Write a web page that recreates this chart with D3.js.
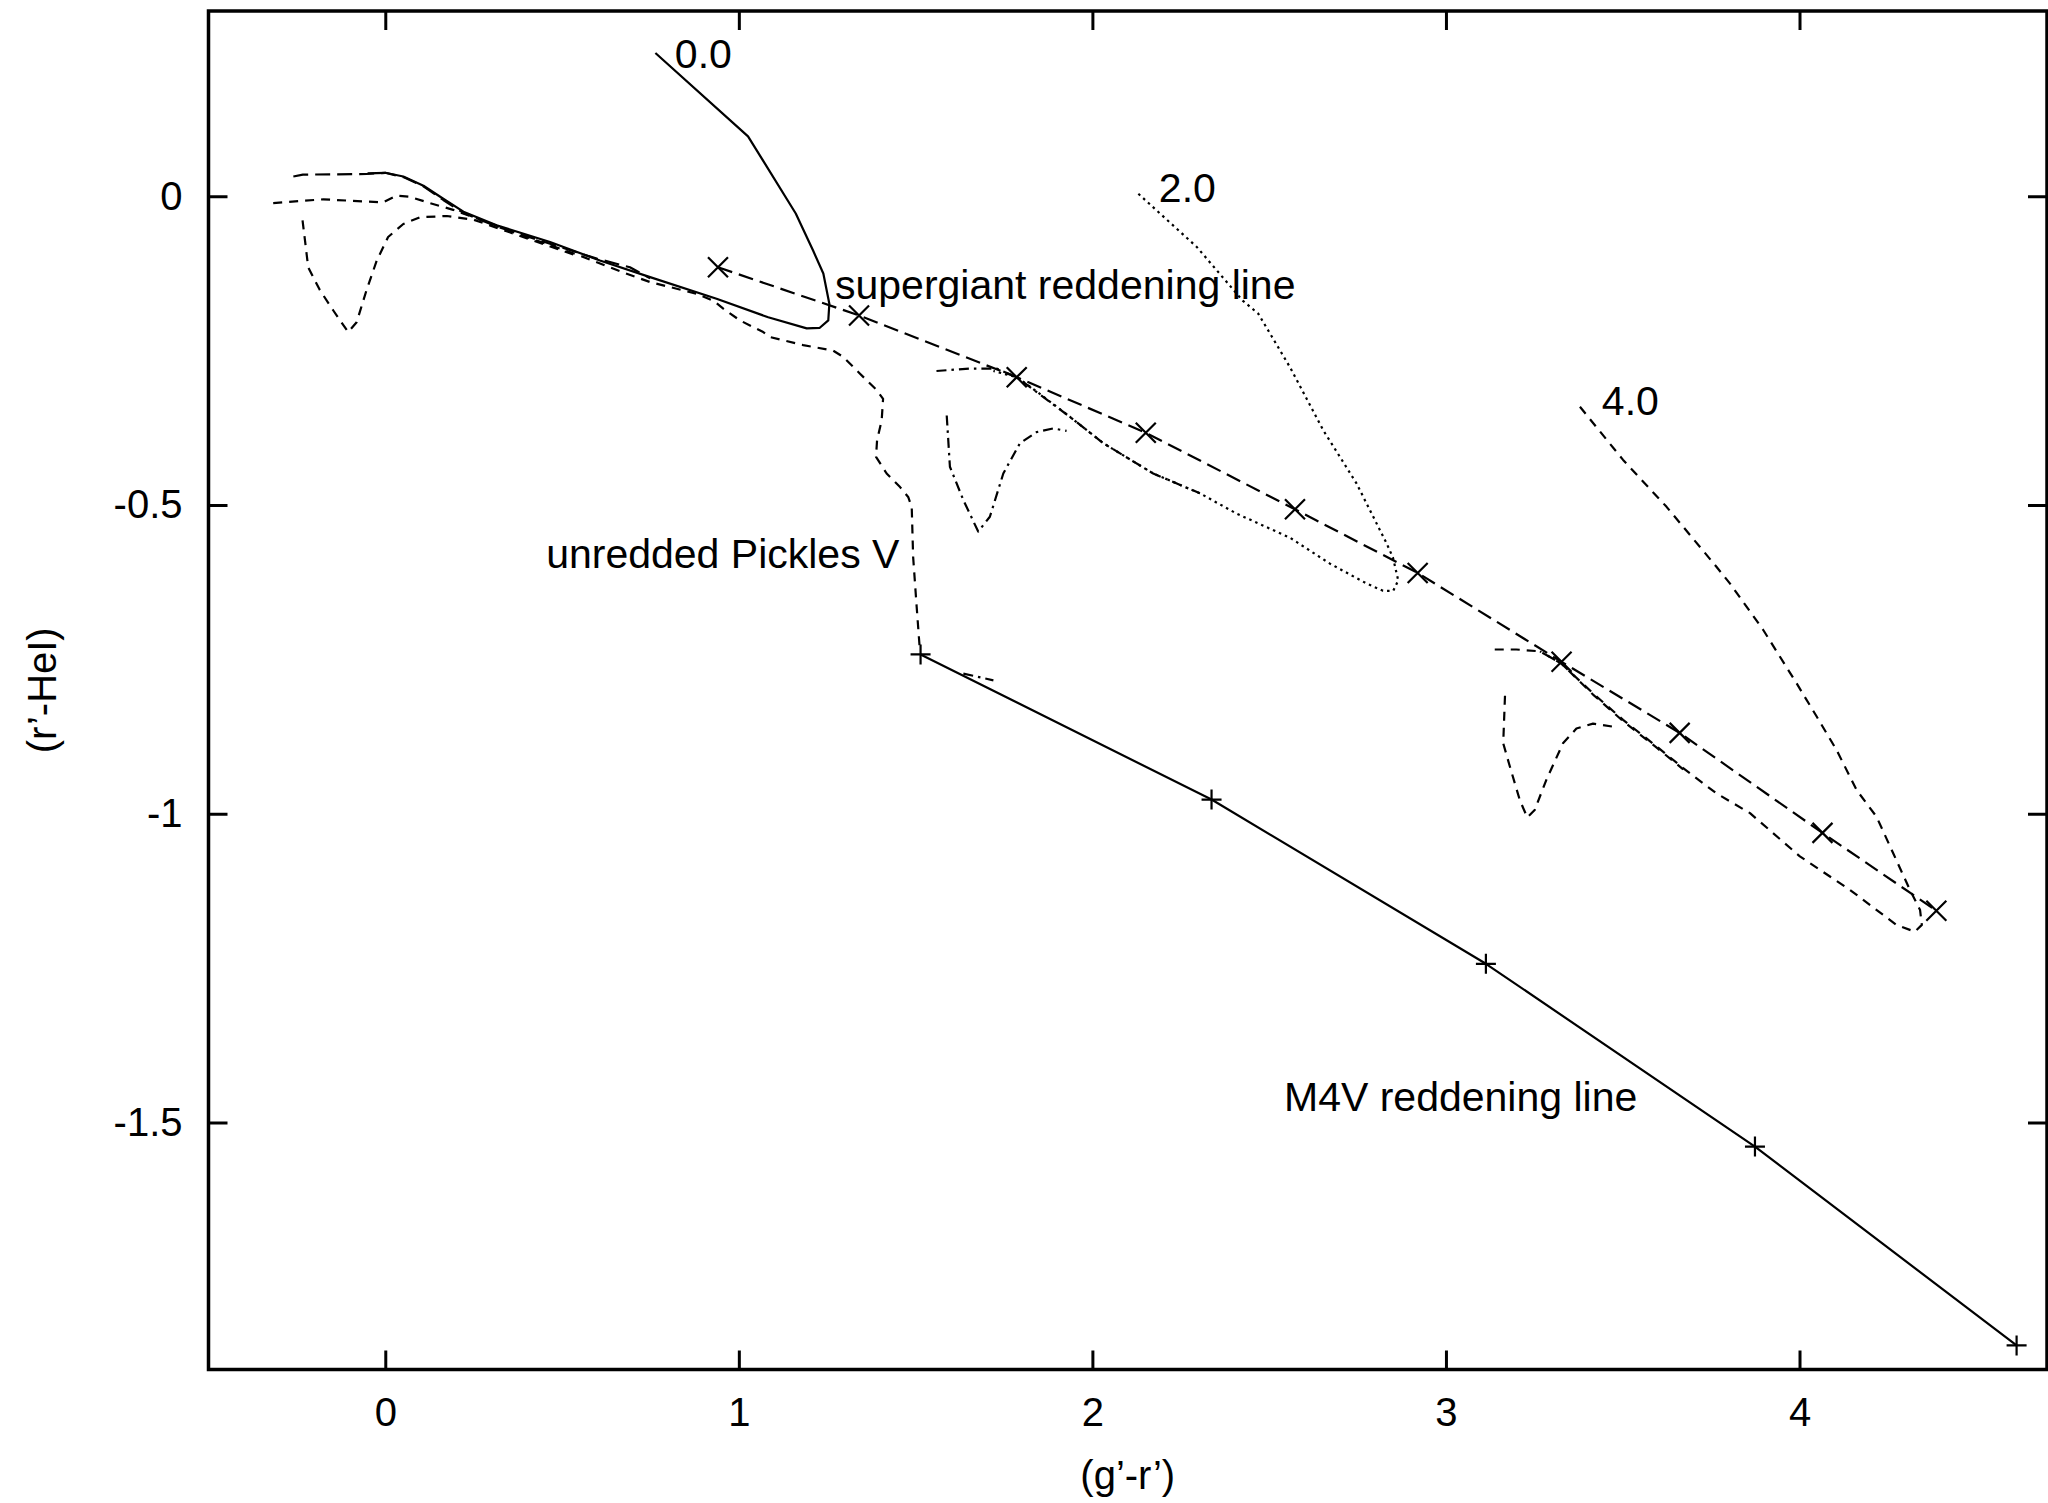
<!DOCTYPE html>
<html>
<head>
<meta charset="utf-8">
<script src="https://cdn.jsdelivr.net/npm/d3@7"></script>
<style>
  html, body { margin: 0; padding: 0; background: #fff; }
  svg { display: block; }
  text { font-family: "Liberation Sans", Arial, Helvetica, sans-serif; fill: #000; }
</style>
</head>
<body>
<svg id="chart" width="2048" height="1503"></svg>
<script>
// ---- axes ----
const xTicks = [0, 1, 2, 3, 4];
const xTickLabels = ["0", "1", "2", "3", "4"];
const yTicks = [0, -0.5, -1, -1.5];
const yTickLabels = ["0", "-0.5", "-1", "-1.5"];
const xTitle = "(g\u2019-r\u2019)";
const yTitle = "(r\u2019-HeI)";

// ---- tracks, [g'-r', r'-HeI] ----
// supergiant track, A_V = 0
const supergiantAv0 = [[0.764,0.232],[1.026,0.097],[1.161,-0.028],[1.21,-0.088],[1.239,-0.125],[1.256,-0.174],[1.253,-0.201],[1.229,-0.213],[1.192,-0.214],[1.083,-0.196],[0.937,-0.166],[0.749,-0.131],[0.607,-0.104],[0.466,-0.074],[0.315,-0.047],[0.221,-0.025],[0.164,-0.004],[0.108,0.017],[0.051,0.032],[0.0,0.038],[-0.05,0.037]];
// giant track, A_V = 0
const giantAv0 = [[-0.26,0.032],[-0.233,0.035],[-0.053,0.036],[0.0,0.038],[0.051,0.031],[0.108,0.016],[0.164,-0.006],[0.221,-0.027],[0.315,-0.049],[0.466,-0.077],[0.598,-0.101],[0.692,-0.115],[0.749,-0.133]];
// dwarf loop, A_V = 0
const dwarfAv0 = [[-0.234,-0.039],[-0.227,-0.072],[-0.218,-0.115],[-0.185,-0.152],[-0.147,-0.185],[-0.105,-0.22],[-0.081,-0.204],[-0.053,-0.152],[-0.024,-0.104],[0.008,-0.066],[0.051,-0.045],[0.098,-0.034],[0.174,-0.032],[0.25,-0.038],[0.32,-0.052],[0.45,-0.078],[0.55,-0.098]];
// unreddened Pickles V sequence
const picklesV = [[-0.317,-0.011],[-0.175,-0.005],[-0.006,-0.01],[0.032,0.001],[0.07,-0.001],[0.126,-0.011],[0.192,-0.022],[0.26,-0.036],[0.40,-0.066],[0.55,-0.096],[0.68,-0.125],[0.749,-0.139],[0.881,-0.158],[0.93,-0.17],[0.956,-0.182],[1.003,-0.201],[1.069,-0.22],[1.088,-0.228],[1.182,-0.241],[1.267,-0.25],[1.295,-0.26],[1.342,-0.287],[1.39,-0.314],[1.408,-0.328],[1.404,-0.363],[1.391,-0.395],[1.388,-0.422],[1.418,-0.449],[1.456,-0.471],[1.479,-0.487],[1.489,-0.503],[1.493,-0.584],[1.503,-0.665],[1.512,-0.735]];

// supergiant track, A_V = 2
const supergiantAv2 = [[2.130,0.004],[2.295,-0.082],[2.425,-0.169],[2.469,-0.19],[2.559,-0.277],[2.653,-0.379],[2.747,-0.465],[2.832,-0.562],[2.85,-0.585],[2.865,-0.622],[2.851,-0.639],[2.822,-0.639],[2.775,-0.627],[2.672,-0.595],[2.559,-0.553],[2.408,-0.514],[2.304,-0.481],[2.172,-0.449],[2.031,-0.40],[1.936,-0.357],[1.842,-0.316],[1.786,-0.293],[1.72,-0.283]];
// giant track, A_V = 2
const giantAv2 = [[1.559,-0.283],[1.654,-0.279],[1.729,-0.279],[1.786,-0.293],[1.936,-0.357],[2.031,-0.40],[2.172,-0.449],[2.304,-0.481]];
// dwarf loop, A_V = 2
const dwarfAv2 = [[1.588,-0.355],[1.597,-0.438],[1.635,-0.492],[1.677,-0.543],[1.71,-0.519],[1.748,-0.449],[1.795,-0.40],[1.842,-0.382],[1.889,-0.376],[1.927,-0.38]];
const dwarfTailAv2 = [[1.635,-0.773],[1.72,-0.784]];

// supergiant track, A_V = 4
const supergiantAv4 = [[3.379,-0.341],[3.501,-0.427],[3.624,-0.503],[3.765,-0.600],[3.803,-0.627],[3.897,-0.702],[3.992,-0.789],[4.049,-0.843],[4.105,-0.897],[4.162,-0.962],[4.218,-1.005],[4.265,-1.064],[4.312,-1.123],[4.341,-1.156],[4.346,-1.180],[4.326,-1.191],[4.274,-1.180],[4.142,-1.123],[4.001,-1.069],[3.860,-0.999],[3.765,-0.967],[3.671,-0.926],[3.596,-0.891],[3.501,-0.848],[3.416,-0.805],[3.360,-0.775],[3.327,-0.757],[3.266,-0.737]];
// giant track, A_V = 4
const giantAv4 = [[3.138,-0.734],[3.199,-0.734],[3.266,-0.737],[3.327,-0.757],[3.416,-0.807],[3.501,-0.850],[3.596,-0.893],[3.671,-0.928]];
// dwarf loop, A_V = 4
const dwarfAv4 = [[3.167,-0.809],[3.162,-0.886],[3.181,-0.924],[3.209,-0.978],[3.23,-1.006],[3.251,-0.994],[3.284,-0.945],[3.331,-0.886],[3.369,-0.862],[3.416,-0.854],[3.473,-0.859]];

// reddening lines with their marked steps
const supergiantReddening = [[0.941,-0.115],[1.340,-0.193],[1.786,-0.293],[2.151,-0.383],[2.573,-0.507],[2.920,-0.610],[3.327,-0.754],[3.661,-0.869],[4.065,-1.031],[4.387,-1.157]];
const m4vReddening = [[1.514,-0.742],[2.337,-0.977],[3.113,-1.243],[3.874,-1.539],[4.614,-1.861]];

// ---- annotations ----
const labelTexts = ["0.0", "2.0", "4.0", "supergiant reddening line", "unredded Pickles V", "M4V reddening line"];
const labelX = [0.819, 2.188, 3.441, 1.272, 0.455, 2.542];
const labelY = [0.208, -0.009, -0.354, -0.166, -0.602, -1.481];

// ---- drawing ----
const svg = d3.select("#chart");
const W = 2048, H = 1503;
const mLeft = 208.5, mRight = 2047, mTop = 11, mBottom = 1369.5;

const x = d3.scaleLinear().domain([-0.5, 4.7]).range([mLeft, mRight]);
const y = d3.scaleLinear().domain([-1.9, 0.3]).range([mBottom, mTop]);

svg.append("rect").attr("width", W).attr("height", H).attr("fill", "#fff");

const fontSize = 40;
const labelFontSize = 41;
const tickLen = 19;

// bottom axis: inward ticks + labels
const gx = svg.append("g").attr("transform", `translate(0,${mBottom})`)
  .call(d3.axisBottom(x).tickValues(xTicks).tickSizeInner(-tickLen).tickSizeOuter(0)
        .tickPadding(28).tickFormat((d, i) => xTickLabels[i]));
// left axis
const gy = svg.append("g").attr("transform", `translate(${mLeft},0)`)
  .call(d3.axisLeft(y).tickValues(yTicks).tickSizeInner(-tickLen).tickSizeOuter(0)
        .tickPadding(26).tickFormat((d, i) => yTickLabels[i]));
// mirrored ticks on top and right
const gt = svg.append("g").attr("transform", `translate(0,${mTop})`)
  .call(d3.axisTop(x).tickValues(xTicks).tickSizeInner(-tickLen).tickSizeOuter(0).tickFormat(""));
const gr = svg.append("g").attr("transform", `translate(${mRight},0)`)
  .call(d3.axisRight(y).tickValues(yTicks).tickSizeInner(-tickLen).tickSizeOuter(0).tickFormat(""));

[gx, gy, gt, gr].forEach(g => {
  g.select(".domain").remove();
  g.selectAll(".tick line").attr("stroke", "#000").attr("stroke-width", 3);
  g.selectAll(".tick text").attr("font-size", fontSize)
    .attr("font-family", '"Liberation Sans", Arial, Helvetica, sans-serif').attr("fill", "#000");
});

// frame
svg.append("rect")
  .attr("x", mLeft).attr("y", mTop)
  .attr("width", mRight - mLeft).attr("height", mBottom - mTop)
  .attr("fill", "none").attr("stroke", "#000").attr("stroke-width", 3.5);

// axis titles
svg.append("text").attr("x", (mLeft + mRight) / 2).attr("y", 1489)
  .attr("text-anchor", "middle").attr("font-size", fontSize).text(xTitle);
svg.append("text").attr("transform", `translate(56,${(mTop + mBottom) / 2}) rotate(-90)`)
  .attr("text-anchor", "middle").attr("font-size", fontSize).text(yTitle);

// line styles
const styles = {
  solid:    null,
  longDash: "15,7",
  shortDash:"9,7",
  dotted:   "2.5,4",
  dashDot:  "10,5,2.5,5"
};

const line = d3.line().x(d => x(d[0])).y(d => y(d[1]));
const plot = svg.append("g").attr("fill", "none").attr("stroke", "#000").attr("stroke-width", 2.2);

const series = [
  [supergiantAv0, "solid"],
  [giantAv0, "longDash"],
  [dwarfAv0, "shortDash"],
  [picklesV, "shortDash"],
  [supergiantAv2, "dotted"],
  [giantAv2, "dashDot"],
  [dwarfAv2, "dashDot"],
  [dwarfTailAv2, "dashDot"],
  [supergiantAv4, "shortDash"],
  [giantAv4, "shortDash"],
  [dwarfAv4, "shortDash"],
  [supergiantReddening, "longDash"],
  [m4vReddening, "solid"]
];

series.forEach(([data, st]) => {
  plot.append("path").datum(data).attr("d", line)
    .attr("stroke-dasharray", styles[st])
    .attr("stroke-linejoin", "round");
});

// step markers
const crossX = "M-10,-10L10,10M-10,10L10,-10";
const crossPlus = "M-10,0L10,0M0,-10L0,10";
plot.selectAll(".mx").data(supergiantReddening).enter().append("path")
  .attr("transform", d => `translate(${x(d[0])},${y(d[1])})`).attr("d", crossX);
plot.selectAll(".mp").data(m4vReddening).enter().append("path")
  .attr("transform", d => `translate(${x(d[0])},${y(d[1])})`).attr("d", crossPlus);

// annotations
svg.append("g").selectAll("text").data(labelTexts).enter().append("text")
  .attr("x", (d, i) => x(labelX[i])).attr("y", (d, i) => y(labelY[i]))
  .attr("font-size", labelFontSize).text(d => d);
</script>
</body>
</html>
